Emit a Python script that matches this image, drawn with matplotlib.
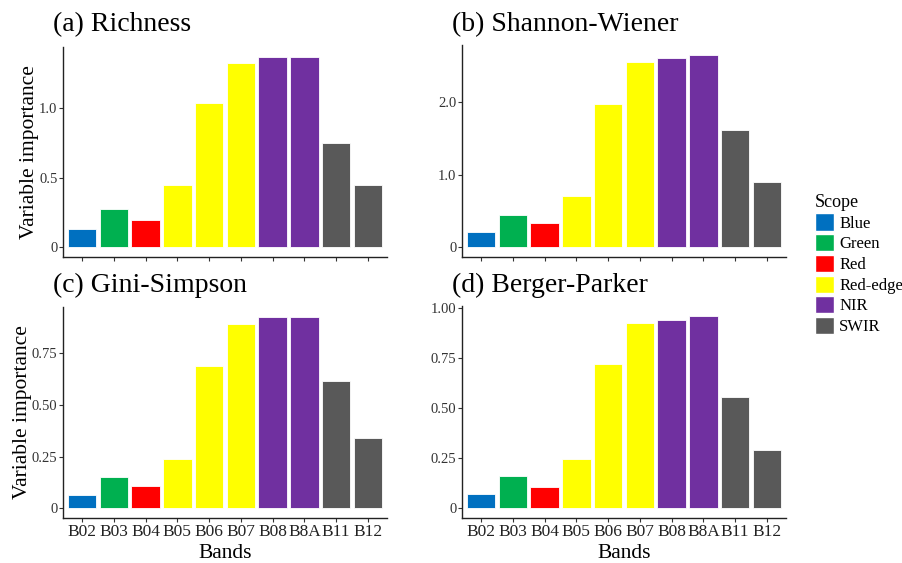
import numpy as np
import matplotlib.pyplot as plt
from matplotlib.patches import Patch

plt.rcParams['font.family'] = ['Liberation Serif', 'DejaVu Serif']

bands = ["B02", "B03", "B04", "B05", "B06", "B07", "B08", "B8A", "B11", "B12"]
scope = ["Blue", "Green", "Red", "Red-edge", "Red-edge", "Red-edge", "NIR", "NIR", "SWIR", "SWIR"]
scope_names = ["Blue", "Green", "Red", "Red-edge", "NIR", "SWIR"]
scope_colors = ["#0070C0", "#00B050", "#FF0000", "#FFFF00", "#7030A0", "#595959"]

richness = [0.134, 0.275, 0.197, 0.45, 1.035, 1.317, 1.359, 1.365, 0.746, 0.45]
shannon = [0.205, 0.45, 0.33, 0.71, 1.97, 2.55, 2.61, 2.65, 1.61, 0.90]
gini = [0.067, 0.154, 0.106, 0.24, 0.69, 0.894, 0.928, 0.928, 0.615, 0.341]
berger = [0.07, 0.16, 0.105, 0.245, 0.72, 0.925, 0.94, 0.96, 0.557, 0.29]

titles = ["(a) Richness", "(b) Shannon-Wiener", "(c) Gini-Simpson", "(d) Berger-Parker"]
values = [richness, shannon, gini, berger]
yticks = [[0, 0.5, 1.0], [0, 1.0, 2.0], [0, 0.25, 0.5, 0.75], [0, 0.25, 0.5, 0.75, 1.0]]
yticklabels = [["0", "0.5", "1.0"], ["0", "1.0", "2.0"],
               ["0", "0.25", "0.50", "0.75"], ["0", "0.25", "0.50", "0.75", "1.00"]]

W, H = 902, 563
fig = plt.figure(figsize=(W / 100, H / 100), dpi=100)

# axes boxes in pixels: left, right, top, bottom
boxes = [(63, 387, 47, 257), (462, 786, 45, 257), (63, 387, 307, 518), (462, 786, 306, 518)]
title_pos = [(53, 25), (452, 25), (53, 285), (452, 285)]

cmap = dict(zip(scope_names, scope_colors))
x = np.arange(len(bands))
for i in range(4):
    l, r, t, b = boxes[i]
    ax = fig.add_axes([l / W, 1 - b / H, (r - l) / W, (b - t) / H])
    v = values[i]
    ax.bar(x, v, width=0.9, color=[cmap[s] for s in scope], edgecolor="white", linewidth=0.6)
    vmax = max(v)
    ax.set_ylim(-0.05 * vmax, 1.05 * vmax)
    ax.set_xlim(-0.6, len(bands) - 0.4)
    ax.set_yticks(yticks[i])
    ax.set_yticklabels(yticklabels[i], fontsize=10.5, color="#333333")
    ax.set_xticks(x)
    if i >= 2:
        ax.set_xticklabels(bands, fontsize=12.5, color="#222222")
        ax.set_xlabel("Bands", fontsize=15.5, labelpad=3)
    else:
        ax.set_xticklabels([])
    if i % 2 == 0:
        ax.set_ylabel("Variable importance", fontsize=15.5, labelpad=0)
    for s in ["top", "right"]:
        ax.spines[s].set_visible(False)
    for s in ["left", "bottom"]:
        ax.spines[s].set_linewidth(1.0)
        ax.spines[s].set_color("#222222")
    ax.tick_params(length=3, width=0.8, color="#333333", pad=1)
    tx, ty = title_pos[i]
    fig.text(tx / W, 1 - ty / H, titles[i], fontsize=20, va="center", ha="left")

handles = [Patch(facecolor=c, edgecolor="white") for c in scope_colors]
leg = fig.legend(handles, scope_names, loc="upper left", bbox_to_anchor=(815 / W, 1 - 194 / H),
                 title="Scope", frameon=False, fontsize=12, title_fontsize=13,
                 handlelength=1.15, handleheight=1.2, handletextpad=0.3, labelspacing=0.15,
                 borderpad=0, borderaxespad=0)
leg._legend_box.align = "left"

fig.savefig("out.png", dpi=100)
